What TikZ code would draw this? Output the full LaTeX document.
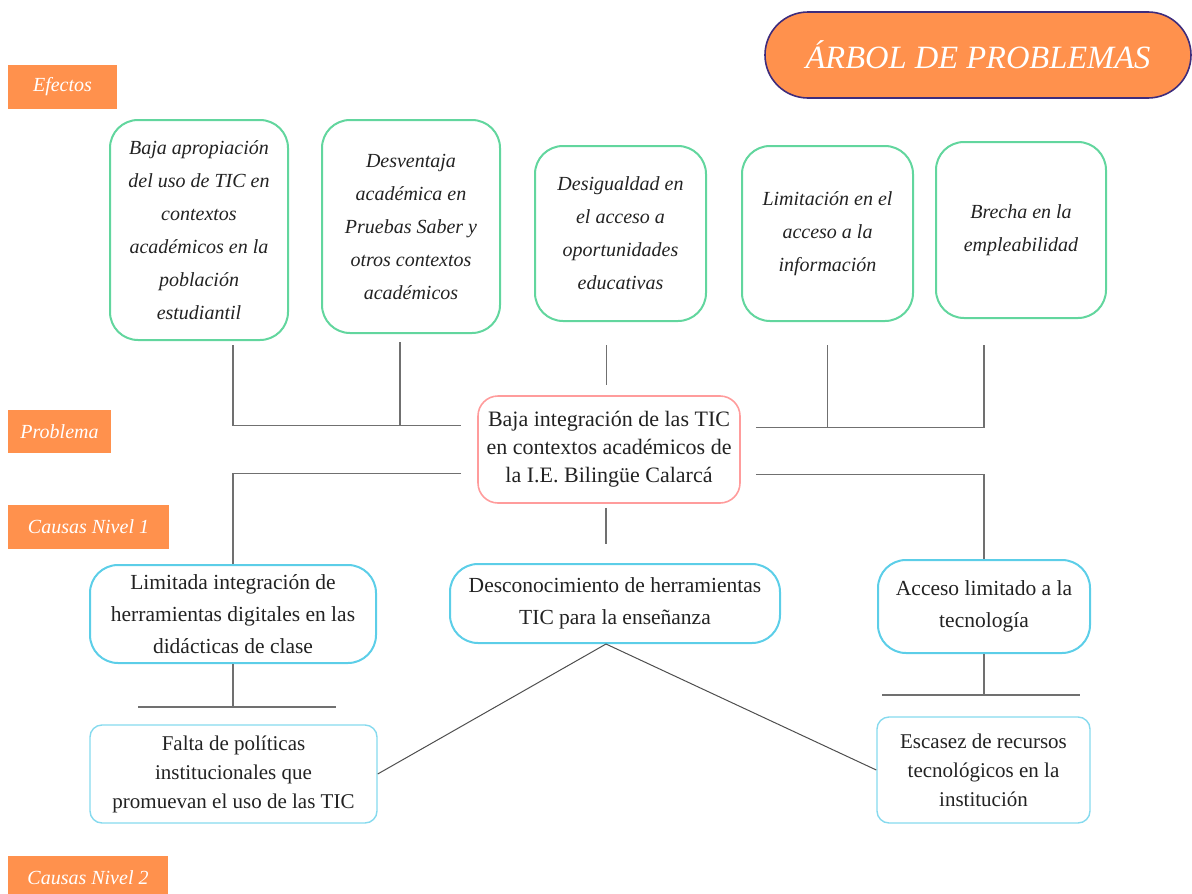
\documentclass[tikz,border=0pt]{standalone}
\usepackage{fontspec}
\setmainfont{Liberation Serif}
\usetikzlibrary{calc,positioning}

\definecolor{naranja}{HTML}{FF914D}
\definecolor{morado}{HTML}{3E2C7C}
\definecolor{verde}{HTML}{62D69E}
\definecolor{rosa}{HTML}{FF9C9C}
\definecolor{celeste}{HTML}{5CCEE8}
\definecolor{celesteclaro}{HTML}{86DAEE}
\definecolor{linea}{HTML}{707070}
\definecolor{texto}{HTML}{222222}

\tikzset{
  etiqueta/.style={fill=naranja, text=white, inner sep=0pt, minimum height=44pt,
    font=\itshape\fontsize{20}{22}\selectfont},
  efecto/.style={draw=verde, line width=2pt, rounded corners=28pt, align=center,
    text=texto, inner sep=0pt, font=\itshape\fontsize{20}{33}\selectfont},
  problema/.style={draw=rosa, line width=1.6pt, rounded corners=20pt, align=center,
    text=texto, inner sep=0pt, font=\fontsize{22}{28}\selectfont},
  causa/.style={draw=celeste, line width=2pt, rounded corners=28pt, align=center,
    text=texto, inner sep=0pt, font=\fontsize{21.5}{32}\selectfont},
  subcausa/.style={draw=celesteclaro, line width=1.4pt, rounded corners=12pt, align=center,
    text=texto, inner sep=0pt, font=\fontsize{21}{29}\selectfont},
  conector/.style={draw=linea, line width=1.4pt},
}

\begin{document}
\begin{tikzpicture}[x=1pt,y=-1pt]
  \useasboundingbox (0,0) rectangle (1192,894);

  % titulo
  \node (titulo) at (978,55) [draw=morado, line width=1.6pt, fill=naranja, text=white,
    rounded corners=43pt, minimum width=426pt, minimum height=86pt,
    font=\itshape\fontsize{32.5}{36}\selectfont] {ÁRBOL DE PROBLEMAS};

  % etiquetas de nivel
  \node (lefectos) at (62.5,87) [etiqueta, minimum width=109pt] {Efectos};
  \node (lproblema) at (59.5,431.5) [etiqueta, minimum width=103pt, minimum height=43pt] {Problema};
  \node (lnivel1) at (88.5,527) [etiqueta, minimum width=161pt] {Causas Nivel 1};
  \node (lnivel2) at (88,878) [etiqueta, minimum width=160pt] {Causas Nivel 2};

  % efectos
  \node (e1) at (199,230) [efecto, minimum width=178pt, minimum height=220pt]
    {Baja apropiación\\del uso de TIC en\\contextos\\académicos en la\\población\\estudiantil};
  \node (e2) at (411,226.5) [efecto, minimum width=178pt, minimum height=213pt]
    {Desventaja\\académica en\\Pruebas Saber y\\otros contextos\\académicos};
  \node (e3) at (620.5,233.5) [efecto, minimum width=171pt, minimum height=175pt]
    {Desigualdad en\\el acceso a\\oportunidades\\educativas};
  \node (e4) at (827.5,233.5) [efecto, minimum width=171pt, minimum height=175pt]
    {Limitación en el\\acceso a la\\información};
  \node (e5) at (1021,230) [efecto, minimum width=170pt, minimum height=176pt]
    {Brecha en la\\empleabilidad};

  % problema central
  \node (p) at (609,449.5) [problema, minimum width=262pt, minimum height=107pt]
    {Baja integración de las TIC\\en contextos académicos de\\la I.E. Bilingüe Calarcá};

  % causas nivel 1
  \node (c1) at (233,614) [causa, minimum width=286pt, minimum height=98pt]
    {Limitada integración de\\herramientas digitales en las\\didácticas de clase};
  \node (c2) at (615,603.5) [causa, minimum width=330pt, minimum height=79pt]
    {Desconocimiento de herramientas\\TIC para la enseñanza};
  \node (c3) at (984,606.5) [causa, minimum width=212pt, minimum height=93pt]
    {Acceso limitado a la\\tecnología};

  % causas nivel 2
  \node (d1) at (233.5,774) [subcausa, minimum width=287pt, minimum height=98pt]
    {Falta de políticas\\institucionales que\\promuevan el uso de las TIC};
  \node (d2) at (983.5,770) [subcausa, minimum width=213pt, minimum height=106pt]
    {Escasez de recursos\\tecnológicos en la\\institución};

  % puntos de union
  \coordinate (barA) at ($(p.west)+(-16,-24)$);
  \coordinate (barB) at ($(p.west)+(-16,24)$);
  \coordinate (barC) at ($(p.east)+(15,-22)$);
  \coordinate (barD) at ($(p.east)+(15,25)$);
  \coordinate (t2) at ($(e2.south)+(-11,8)$);
  \coordinate (t3) at ($(e3.south)+(-14,23)$);
  \coordinate (t4) at ($(e4.south)+(0,23)$);
  \coordinate (k1) at ($(c1.south)+(0,43)$);
  \coordinate (k3) at ($(c3.south)+(0,41)$);

  % efectos -> problema
  \draw[conector] ($(e1.south)+(34,4)$) |- (barA);
  \draw[conector] (t2) -- (t2 |- barA);
  \draw[conector] (t3) -- ($(t3)+(0,40)$);
  \draw[conector] (t4) -- (t4 |- barC);
  \draw[conector] (barC) -| ($(e5.south)+(-37,26)$);

  % problema -> causas
  \draw[conector] (barB) -| (c1.north);
  \draw[conector] (barD) -| (c3.north);
  \draw[conector] ($(p.south)+(-3,4)$) -- ($(c2.north)+(-9,-19)$);

  % causas nivel 1 -> nivel 2
  \draw[conector] (c1.south) -- (k1);
  \draw[conector] ($(k1)+(-95,0)$) -- ($(k1)+(103,0)$);
  \draw[conector] (c3.south) -- (k3);
  \draw[conector] ($(k3)+(-102,0)$) -- ($(k3)+(96,0)$);
  \draw[conector, line width=1pt, draw=texto!80] ($(c2.south)+(-9,0)$) -- (d1.east);
  \draw[conector, line width=1pt, draw=texto!80] ($(c2.south)+(-9,0)$) -- (d2.west);
\end{tikzpicture}
\end{document}
